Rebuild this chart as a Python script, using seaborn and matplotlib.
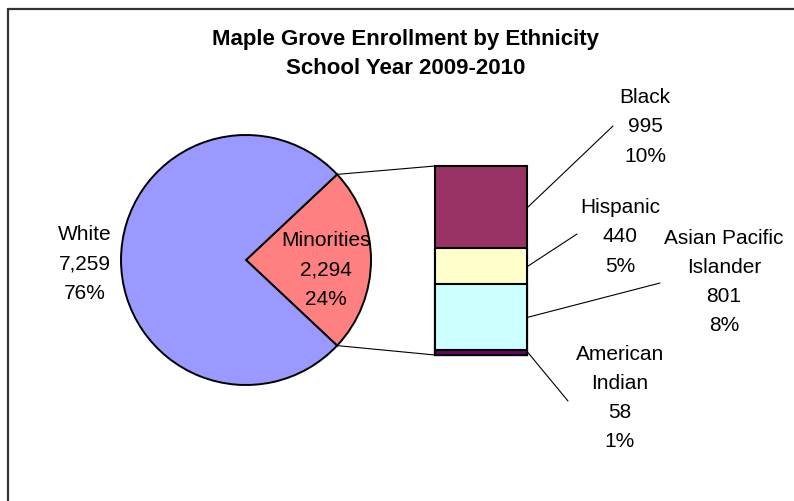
import matplotlib
matplotlib.use('Agg')
import numpy as np
import pandas as pd
import matplotlib.pyplot as plt
import seaborn as sns

# Data
pie_labels = ['Minorities', 'White']
pie_values = [2294, 7259]
pie_colors = ['#FF8080', '#9999FF']

groups = ['Black', 'Hispanic', 'Asian Pacific\nIslander', 'American\nIndian']
group_values = [995, 440, 801, 58]
group_colors = ['#993366', '#FFFFCC', '#CCFFFF', '#660066']

title = 'Maple Grove Enrollment by Ethnicity\nSchool Year 2009-2010'

sns.set_style('white')
plt.rcParams['font.family'] = ['Liberation Sans', 'DejaVu Sans']
plt.rcParams['text.color'] = 'black'

W, H = 794, 502
fig = plt.figure(figsize=(W / 100, H / 100), dpi=100)
ax = fig.add_axes([0, 0, 1, 1])


def py(y):
    # pixel row -> data y
    return H - y


total = sum(pie_values)
grand = total

# Pie: minorities slice centred on the right
cx, cy, r = 246, py(261), 125
half = 180 * pie_values[0] / total
ax.pie(pie_values, colors=pie_colors, startangle=-half, center=(cx, cy),
       radius=r, frame=True,
       wedgeprops=dict(edgecolor='black', linewidth=1.4))
ax.set_xlim(0, W)
ax.set_ylim(0, H)
ax.axis('off')

lab_size = 15
ls = 1.68
pie_pos = {'Minorities': (326, 270), 'White': (85, 264)}
for name, v in zip(pie_labels, pie_values):
    x, y = pie_pos[name]
    ax.text(x, py(y), f'{name}\n{v:,}\n{round(v / grand * 100)}%',
            ha='center', va='center', fontsize=lab_size, linespacing=ls,
            color='black')

# Title
ax.text(406, py(54), title, ha='center', va='center', fontsize=16,
        fontweight='bold', linespacing=1.55, color='black')

# Stacked bar of minorities
bx0, bx1, by0, by1 = 435, 527, 167, 356
bax = fig.add_axes([bx0 / W, (H - by1) / H, (bx1 - bx0) / W, (by1 - by0) / H])
df = pd.DataFrame({'group': groups, 'value': group_values, 'color': group_colors})
df['top'] = df['value'][::-1].cumsum()[::-1]
sub_total = df['value'].sum()
for _, row in df.iterrows():
    sns.barplot(x=[0], y=[row['top']], color=row['color'], saturation=1,
                width=1, edgecolor='black', linewidth=1.5, ax=bax)
for p in bax.patches:
    p.set_clip_on(False)
bax.set_xlim(-0.5, 0.5)
bax.set_ylim(0, sub_total)
bax.axis('off')

# Lines linking pie slice to bar
for sign, yb in [(1, by0), (-1, by1)]:
    a = np.deg2rad(sign * half)
    ax.plot([cx + r * np.cos(a), bx0], [cy + r * np.sin(a), py(yb)],
            color='black', lw=0.8, clip_on=False)

# Leader lines and labels of the bar segments
leader_end = [(613, 127), (577, 235), (660, 284), (568, 402)]
label_pos = [(645, 127), (620, 237), (724, 282), (620, 398)]
for (_, row), (ex, ey), (lx, ly) in zip(df.iterrows(), leader_end, label_pos):
    mid = row['top'] - row['value'] / 2
    ym = by1 - mid / sub_total * (by1 - by0)
    ax.plot([bx1 + 1, ex], [py(ym), py(ey)], color='black', lw=0.8, clip_on=False)
    ax.text(lx, py(ly), f"{row['group']}\n{row['value']:,}\n{round(row['value'] / grand * 100)}%",
            ha='center', va='center', fontsize=lab_size, linespacing=ls,
            color='black')

# Chart border (top and left only visible)
ax.plot([8, W], [py(10), py(10)], color='#333333', lw=1.6, clip_on=False)
ax.plot([8, 8], [py(10), 0], color='#333333', lw=1.6, clip_on=False)

fig.savefig('out.png', dpi=100)
